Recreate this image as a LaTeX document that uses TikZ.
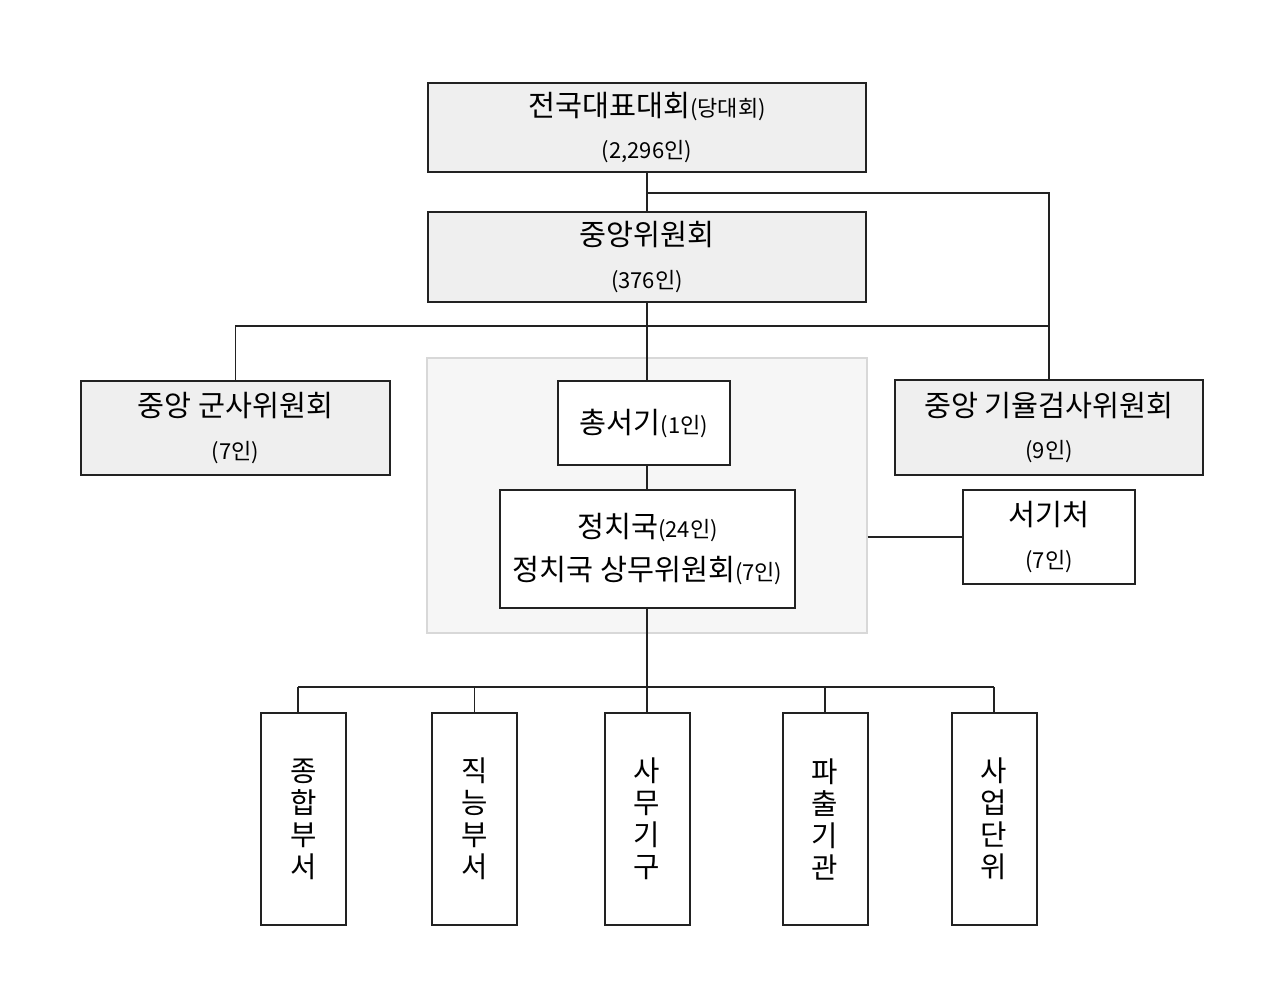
\documentclass[tikz,border=0pt]{standalone}
\usepackage{fontspec}
\setmainfont{Noto Sans CJK KR}
\usetikzlibrary{calc}
\definecolor{boxgray}{HTML}{EFEFEF}
\definecolor{panelfill}{HTML}{F6F6F6}
\definecolor{paneldraw}{HTML}{D8D8D8}
\definecolor{ink}{HTML}{222222}
\tikzset{
  box/.style={draw=ink, line width=1.5pt, rectangle, inner sep=0pt, align=center,
    font=\fontsize{22}{32}\selectfont},
  graybox/.style={box, fill=boxgray},
  whitebox/.style={box, fill=white},
  vbox/.style={box, fill=white, minimum width=63.75pt, minimum height=159pt,
    font=\fontsize{21.5}{24}\selectfont},
  link/.style={draw=ink, line width=1.2pt},
}
\newcommand{\sm}[1]{{\fontsize{16.5}{20}\selectfont #1}}
\begin{document}
\begin{tikzpicture}[x=0.75pt,y=-0.75pt]
\useasboundingbox (0,0) rectangle (1280,996);
% panel
\node[draw=paneldraw, fill=panelfill, line width=1pt, minimum width=330pt, minimum height=206.25pt, inner sep=0pt] (panel) at (647,495.5) {};
% boxes
\node[graybox, minimum width=328.5pt, minimum height=66.75pt] (congress) at (647,127.5) {전국대표대회\sm{(당대회)}\\\sm{(2,296인)}};
\node[graybox, minimum width=328.5pt, minimum height=67.5pt] (cc) at (647,257) {중앙위원회\\\sm{(376인)}};
\node[graybox, minimum width=231.75pt, minimum height=70.5pt] (mil) at (235.5,428) {중앙 군사위원회\\\sm{(7인)}};
\node[graybox, minimum width=231pt, minimum height=71.25pt] (disc) at (1049,427.5) {중앙 기율검사위원회\\\sm{(9인)}};
\node[whitebox, minimum width=129pt, minimum height=63pt] (gs) at (644,423) {총서기\sm{(1인)}};
\node[whitebox, minimum width=221.25pt, minimum height=88.5pt] (pb) at (647.5,549) {정치국\sm{(24인)}\\정치국 상무위원회\sm{(7인)}};
\node[whitebox, minimum width=129pt, minimum height=70.5pt] (sec) at (1049,537) {서기처\\\sm{(7인)}};
\node[vbox] (b1) at (303.5,819) {종\\합\\부\\서};
\node[vbox] (b2) at (474.5,819) {직\\능\\부\\서};
\node[vbox] (b3) at (647,819) {사\\무\\기\\구};
\node[vbox] (b4) at (825,819) {파\\출\\기\\관};
\node[vbox] (b5) at (994,819) {사\\업\\단\\위};
% junction coordinates
\coordinate (j1) at (647,193);
\coordinate (j2) at (647,326);
\coordinate (j3) at (647,687);
\coordinate (t1) at (298,713);
% connectors
\draw[link] (congress.south) -- (cc.north);
\draw[link] (j1) -| (disc.north);
\draw[link] (cc.south) -- (cc.south |- gs.north);
\draw[link] (j2) -| (mil.north);
\draw[link] (j2) -- (disc.north |- j2);
\draw[link] (cc.south |- gs.south) -- (pb.north -| cc.south);
\draw[link] (pb.south -| cc.south) -- (j3);
\draw[link] (panel.east |- sec.west) -- (sec.west);
\draw[link] (t1 |- j3) -- (b5.north |- j3);
\draw[link] (t1 |- j3) -- (t1);
\foreach \b in {b2,b3,b4,b5} {\draw[link] (\b.north |- j3) -- (\b.north);}
\end{tikzpicture}
\end{document}
